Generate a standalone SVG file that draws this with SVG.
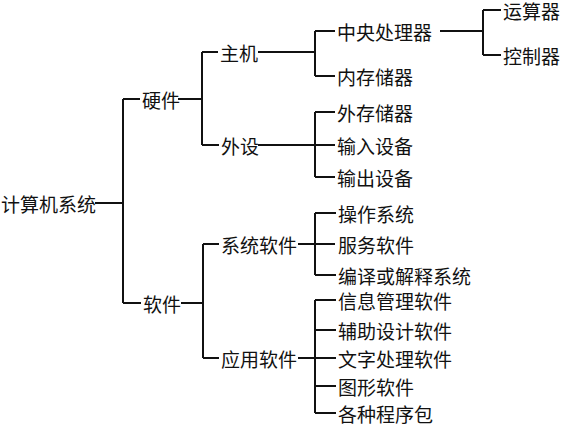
<svg xmlns="http://www.w3.org/2000/svg" width="566" height="425" viewBox="0 0 566 425">
<style>
text{font-family:"Noto Sans CJK SC","Noto Sans CJK JP",sans-serif;font-size:19px;fill:#111;dominant-baseline:central}
.c path{stroke:#111;stroke-width:2;fill:none}
</style>
<rect width="566" height="425" fill="#fff"/>
<g class="c" id="connectors">
<path d="M95 203H123M123 99V303M123 99H140M123 303H141"/>
<path d="M178 99H202M202 52V145M202 52H218M202 145H219"/>
<path d="M258 52H315M315 31V76M315 31H335M315 76H335"/>
<path d="M440 31H483M483 10V55M483 10H501M483 55H501"/>
<path d="M258 145H335M315 112V177M315 112H335M315 177H335"/>
<path d="M181 303H203M203 244V358M203 244H219M203 358H219"/>
<path d="M298 244H335M315 213V275M315 213H336M315 275H336"/>
<path d="M298 358H336M315 300V413M315 300H336M315 330H336M315 386H336M315 413H336"/>
</g>
<g id="n-root"><text x="1" y="203">计算机系统</text></g>
<g id="n-hw"><text x="142" y="99">硬件</text></g>
<g id="n-sw"><text x="143" y="303">软件</text></g>
<g id="n-host"><text x="220" y="52">主机</text></g>
<g id="n-periph"><text x="221" y="145">外设</text></g>
<g id="n-syssw"><text x="221" y="244">系统软件</text></g>
<g id="n-appsw"><text x="221" y="358">应用软件</text></g>
<g id="n-cpu"><text x="337" y="31">中央处理器</text></g>
<g id="n-mem"><text x="337" y="76">内存储器</text></g>
<g id="n-alu"><text x="503" y="10">运算器</text></g>
<g id="n-ctl"><text x="503" y="55">控制器</text></g>
<g id="n-ext"><text x="337" y="112">外存储器</text></g>
<g id="n-in"><text x="337" y="145">输入设备</text></g>
<g id="n-out"><text x="337" y="177">输出设备</text></g>
<g id="n-os"><text x="338" y="213">操作系统</text></g>
<g id="n-svc"><text x="338" y="244">服务软件</text></g>
<g id="n-comp"><text x="338" y="275">编译或解释系统</text></g>
<g id="n-info"><text x="338" y="300">信息管理软件</text></g>
<g id="n-cad"><text x="338" y="330">辅助设计软件</text></g>
<g id="n-word"><text x="338" y="358">文字处理软件</text></g>
<g id="n-gfx"><text x="338" y="386">图形软件</text></g>
<g id="n-pkg"><text x="338" y="413">各种程序包</text></g>
</svg>
